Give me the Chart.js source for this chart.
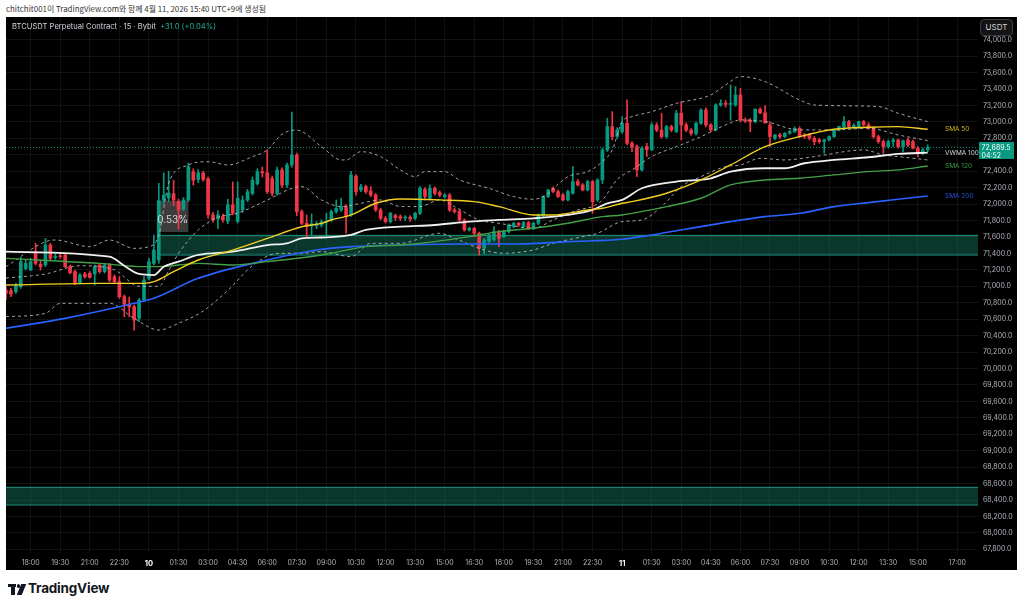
<!DOCTYPE html>
<html><head><meta charset="utf-8">
<script src="https://cdn.jsdelivr.net/npm/chart.js@4.4.1/dist/chart.umd.min.js"></script>
<style>
html,body{margin:0;padding:0;background:#fff;width:1024px;height:609px;overflow:hidden;font-family:Inter,"Liberation Sans",Arial,sans-serif;}
#hdr{position:absolute;left:6px;top:2px;font-size:7.9px;line-height:13px;color:#333;font-family:"Noto Sans CJK KR",Inter,sans-serif;white-space:nowrap;}
#panel{position:absolute;left:6px;top:17px;width:1011px;height:553px;background:#000;overflow:hidden;}
#c{position:absolute;left:0;top:0;}
#title{position:absolute;left:6px;top:4px;font-size:7.6px;line-height:12px;color:#d1d4dc;white-space:nowrap;}
#title span{color:#22ab94;margin-left:4px;}
#usdt{position:absolute;left:974px;top:2px;width:33px;height:17px;box-sizing:border-box;border:1px solid #3a3d45;border-radius:4px;background:#141414;color:#d1d4dc;font-size:8px;line-height:15px;text-align:center;}
#logo{position:absolute;left:8px;top:583px;height:14px;}
#logo .t1{position:absolute;left:0;top:1px;width:8px;height:3px;background:#131722;}
#logo .t2{position:absolute;left:3px;top:1px;width:3.5px;height:11px;background:#131722;}
#logo .dot{position:absolute;left:8.5px;top:1px;width:3.5px;height:3.5px;border-radius:50%;background:#131722;}
#logo .sl{position:absolute;left:11px;top:1px;width:5px;height:11px;background:#131722;transform:skewX(-22deg);}
#logo .txt{position:absolute;left:20px;top:-3px;font-size:13.5px;font-weight:700;color:#131722;white-space:nowrap;letter-spacing:-0.2px;}
</style></head>
<body>
<div id="hdr">chitchit001이 TradingView.com와 함께 4월 11, 2026 15:40 UTC+9에 생성됨</div>
<div id="panel">
<canvas id="c" width="1011" height="553"></canvas>
<div id="title">BTCUSDT Perpetual Contract · 15 · Bybit<span>+31.0 (+0.04%)</span></div>
<div id="usdt">USDT</div>
</div>
<div id="logo"><div class="t1"></div><div class="t2"></div><div class="dot"></div><div class="sl"></div><div class="txt">TradingView</div></div>
<script>
// bar index 0 = Apr 9 16:45, 15-minute bars
const ohlc = [
[70955,70995,70833,70914],[70947,70975,70874,70906],[70935,71036,70914,71016],[70995,71352,70975,71300],
[71218,71320,71198,71279],[71198,71340,71190,71300],[71421,71523,71259,71279],[71267,71320,71198,71239],
[71259,71583,71239,71502],[71502,71523,71320,71340],[71352,71393,71328,71368],[71368,71400,71340,71360],
[71381,71393,71231,71239],[71239,71259,71150,71166],[71178,71198,71016,71036],[71044,71158,71028,71137],
[71150,71170,71100,71117],[71158,71180,71100,71109],[71150,71259,71016,71239],[71259,71279,71160,71178],
[71178,71279,71160,71259],[71259,71279,71056,71077],[71117,71140,71040,71056],[71056,71117,70853,70874],
[70874,70894,70630,70780],[70780,70870,70630,70750],[70752,70772,70468,70590],[70610,70853,70570,70833],
[70833,71117,70813,71077],[71097,71340,71077,71300],[71279,71624,71259,71441],[71320,72252,71279,72042],
[72050,72380,72000,72110],[72075,72400,72030,72135],[72125,72290,71980,72050],[72030,72060,71700,71930],
[71940,72080,71920,72050],[72050,72500,72030,72455],[72395,72430,72230,72290],[72300,72420,72260,72380],
[72380,72400,72280,72300],[72310,72330,71830,71870],[71870,71900,71780,71810],[71820,71920,71700,71870],
[71850,71880,71780,71810],[71790,72060,71760,71990],[71990,72270,71870,71890],[71790,72270,71770,72070],
[71930,72100,71900,72050],[72050,72180,72030,72150],[72130,72330,72110,72290],[72250,72430,72230,72395],
[72395,72450,72330,72380],[72380,72660,72130,72150],[72310,72340,72100,72130],[72130,72450,72110,72415],
[72415,72440,72200,72232],[72232,72500,72200,72476],[72476,73120,72450,72597],[72597,72620,71860,71909],
[71909,71930,71750,71767],[71767,71868,71604,71726],[71735,71880,71620,71760],[71734,71790,71700,71759],
[71746,71810,71720,71787],[71780,71888,71604,71790],[71807,71930,71790,71909],[71909,72051,71890,71949],
[71929,72071,71910,71970],[71970,71990,71645,71848],[71868,72400,71850,72355],[72340,72360,72110,72150],
[72172,72240,72150,72213],[72213,72230,72130,72152],[72160,72213,72090,72111],[72111,72130,71910,71929],
[71929,71950,71810,71828],[71828,71850,71770,71787],[71787,71900,71770,71888],[71860,71880,71800,71835],
[71848,71870,71800,71828],[71830,71860,71800,71840],[71840,71860,71790,71820],[71828,71900,71810,71888],
[71888,72213,71870,72192],[72180,72200,72050,72090],[72071,72233,72050,72192],[72192,72210,72110,72132],
[72140,72160,72090,72111],[72091,72130,72070,72111],[72111,72130,71910,71929],[71929,71950,71890,71909],
[71909,71930,71790,71807],[71807,71820,71670,71686],[71686,71720,71670,71706],[71706,71720,71604,71645],
[71645,71660,71381,71463],[71463,71580,71390,71564],[71544,71640,71530,71625],[71564,71726,71550,71665],
[71665,71680,71483,71584],[71604,71680,71590,71665],[71665,71760,71650,71746],[71726,71780,71710,71767],
[71767,71780,71730,71746],[71726,71790,71710,71775],[71775,71790,71690,71706],[71706,71780,71690,71767],
[71767,71880,71750,71868],[71868,72100,71850,72091],[72091,72180,72080,72172],[72192,72210,72140,72152],
[72152,72170,72080,72091],[72111,72130,72040,72051],[72051,72170,72040,72152],[72132,72456,72120,72274],
[72274,72300,72220,72233],[72233,72250,72160,72172],[72172,72290,72160,72274],[72274,72290,71888,72030],
[72051,72310,72030,72294],[72294,72680,72250,72659],[72659,73044,72640,72943],[72943,73125,72780,72821],
[72821,72930,72800,72902],[72882,73064,72860,72983],[72983,73267,72720,72740],[72740,72760,72639,72699],
[72699,72720,72334,72416],[72416,72700,72400,72679],[72700,72740,72578,72660],[72660,72990,72650,72963],
[72960,72990,72880,72900],[72900,73105,72800,72821],[72821,72960,72800,72943],[72943,72960,72880,72902],
[72882,73140,72870,73105],[73105,73247,72780,72963],[72963,72990,72880,72900],[72900,72920,72840,72860],
[72860,73000,72840,72983],[72983,73160,72970,73145],[73145,73170,72940,72963],[72963,72980,72880,72902],
[72902,73220,72890,73206],[73206,73270,73190,73227],[73227,73260,73180,73214],[73214,73450,73020,73225],
[73206,73429,73190,73328],[73328,73409,73000,73024],[73024,73050,72990,73010],[73020,73040,72880,73000],
[73000,73160,72990,73154],[73154,73170,73100,73110],[73110,73200,72980,72990],[72963,73000,72699,72821],
[72801,72850,72780,72841],[72841,72860,72800,72821],[72821,72870,72810,72862],[72862,72900,72850,72882],
[72882,72940,72870,72922],[72922,72940,72810,72821],[72841,72860,72800,72821],[72841,72860,72780,72801],
[72801,72820,72720,72760],[72780,72800,72740,72760],[72760,72790,72618,72780],[72780,72830,72770,72821],
[72821,72910,72810,72902],[72902,72950,72890,72943],[72943,73064,72930,73003],[73003,73020,72930,72943],
[72943,72980,72920,72960],[72935,73010,72920,73003],[73003,73020,72950,72963],[72963,72990,72910,72922],
[72922,72940,72800,72821],[72821,72840,72740,72760],[72760,72780,72618,72699],[72699,72780,72680,72760],
[72760,72801,72700,72780],[72780,72790,72679,72699],[72699,72780,72639,72770],[72780,72800,72700,72720],
[72760,72780,72670,72679],[72679,72700,72578,72618],[72618,72680,72600,72659],[72659,72720,72640,72689.5]
];
const sma50 = [[0,71016],[19,71036],[28,71036],[30,71056],[34,71178],[39,71320],[46,71441],[53,71583],[60,71725],[64,71766],[66,71807],[70,71868],[75,72010],[80,72063],[88,72051],[95,72030],[100,71970],[107,71868],[111,71868],[118,71929],[121,71949],[125,72010],[127,72030],[134,72132],[141,72294],[147,72476],[154,72699],[161,72821],[168,72910],[175,72935],[181,72943],[187,72910]];
const vwma100 = [[0,71421],[21,71360],[24,71250],[27,71150],[30,71137],[32,71239],[35,71300],[39,71381],[46,71421],[53,71502],[57,71523],[60,71583],[64,71594],[70,71625],[73,71686],[80,71726],[87,71746],[94,71787],[100,71807],[107,71827],[114,71868],[119,71929],[122,72010],[125,72051],[129,72193],[136,72274],[143,72314],[147,72395],[154,72436],[158,72436],[162,72497],[168,72537],[175,72570],[181,72610],[187,72626]];
const sma120 = [[0,71340],[19,71279],[28,71239],[31,71239],[39,71279],[46,71259],[53,71300],[64,71381],[66,71402],[73,71483],[80,71503],[87,71544],[94,71604],[100,71665],[107,71706],[114,71767],[121,71848],[125,71868],[127,71888],[134,71969],[141,72071],[147,72233],[154,72294],[161,72314],[168,72355],[175,72395],[181,72416],[187,72464]];
const sma200 = [[0,70489],[12,70610],[26,70793],[30,70854],[39,71097],[53,71320],[63,71442],[70,71483],[80,71503],[94,71515],[104,71515],[114,71544],[125,71572],[131,71625],[141,71726],[147,71787],[154,71848],[161,71888],[168,71969],[175,72018],[181,72059],[187,72099]];
const bbUpper = [[0,71239],[8,71543],[10,71563],[17,71482],[21,71563],[26,71462],[29,71482],[31,71624],[33,72252],[37,72476],[41,72516],[45,72476],[50,72577],[53,72658],[56,72850],[59,72900],[64,72699],[68,72537],[69,72537],[72,72638],[76,72578],[80,72416],[83,72334],[85,72395],[89,72395],[92,72294],[98,72192],[103,72091],[107,72059],[109,72091],[114,72334],[118,72395],[121,72517],[123,72659],[125,73003],[127,73064],[131,73125],[136,73226],[143,73328],[146,73450],[149,73551],[154,73490],[161,73267],[164,73206],[177,73186],[181,73105],[187,73003]];
const bbBasis = [[0,71100],[8,71150],[15,71250],[22,71200],[27,71000],[31,71000],[33,71190],[35,71400],[39,71685],[43,71840],[47,71890],[53,72050],[58,72192],[60,72213],[64,72051],[68,71970],[72,72010],[76,72051],[80,71970],[84,71970],[88,72051],[91,71970],[96,71807],[100,71767],[107,71706],[111,71807],[116,71929],[119,71970],[121,72050],[124,72300],[127,72415],[131,72578],[136,72699],[141,72821],[146,72963],[149,73024],[154,73004],[161,72902],[168,72902],[175,72922],[181,72841],[187,72772]];
const bbLower = [[0,70631],[8,70671],[11,70793],[21,70793],[26,70610],[31,70468],[35,70550],[40,70700],[45,70950],[50,71250],[55,71400],[60,71402],[64,71422],[70,71361],[74,71523],[80,71523],[88,71645],[91,71584],[97,71442],[101,71402],[107,71442],[111,71523],[117,71604],[120,71645],[125,71787],[129,71807],[133,71969],[137,72213],[141,72334],[146,72456],[149,72476],[153,72557],[158,72537],[164,72578],[174,72659],[178,72598],[181,72578],[187,72537]];
const zoneUpper = {from:30.8, to:197.2, top:71620, bottom:71380};
const zoneLower = {from:0, to:197.2, top:68555, bottom:68340};
const lastPrice = 72689.5;
const xTickIdx = [5,11,17,23,29,35,41,47,53,59,65,71,77,83,89,95,101,107,113,119,125,131,137,143,149,155,161,167,173,179,185,193];
const xTickLabels = ["18:00","19:30","21:00","22:30","10","01:30","03:00","04:30","06:00","07:30","09:00","10:30","12:00","13:30","15:00","16:30","18:00","19:30","21:00","22:30","11","01:30","03:00","04:30","06:00","07:30","09:00","10:30","12:00","13:30","15:00","17:00"];
const yTickVals = [67800,68000,68200,68400,68600,68800,69000,69200,69400,69600,69800,70000,70200,70400,70600,70800,71000,71200,71400,71600,71800,72000,72200,72400,72600,72800,73000,73200,73400,73600,73800,74000];

const UP='#089981', DN='#f23645';
const colors = ohlc.map(r => r[3] >= r[0] ? UP : DN);
const pts = a => a.map(p => ({x:p[0], y:p[1]}));
const lineDs = (label, arr, color, w, order) => ({type:'line', label, data:pts(arr), borderColor:color, borderWidth:w, pointRadius:0, cubicInterpolationMode:'monotone', fill:false, order, maLabel:true});
const bbDs = arr => ({type:'line', data:pts(arr), borderColor:'rgba(200,200,200,0.8)', borderWidth:1, borderDash:[3,3], pointRadius:0, cubicInterpolationMode:'monotone', fill:false, order:6});
const zoneDs = (z, which) => ({type:'line', data:[{x:z.from,y:z[which]},{x:z.to,y:z[which]}], borderColor:'rgba(34,171,148,0.85)', borderWidth:1, pointRadius:0, fill: which==='top' ? '+1' : false, backgroundColor:'rgba(22,130,104,0.42)', order:20});

const overlay = {
  id:'overlay',
  beforeDatasetsDraw(chart){
    const {ctx, scales:{x,y}} = chart;
    ctx.save();
    const x0=x.getPixelForValue(30.6), x1=x.getPixelForValue(37.0);
    const y0=y.getPixelForValue(72042), y1=y.getPixelForValue(71660);
    ctx.fillStyle='rgba(110,110,110,0.55)';
    ctx.fillRect(x0,y0,x1-x0,y1-y0);
    ctx.restore();
  },
  afterDatasetsDraw(chart){
    const {ctx, scales:{x,y}} = chart;
    ctx.save();
    ctx.font='10px Inter, sans-serif';
    ctx.fillStyle='#d8d8d8';
    ctx.textAlign='center'; ctx.textBaseline='middle';
    ctx.fillText('0.53%', x.getPixelForValue(33.8), y.getPixelForValue(71807));
    ctx.font='6.5px Inter, sans-serif';
    ctx.textAlign='left';
    chart.data.datasets.forEach(ds => {
      if (!ds.maLabel) return;
      const last = ds.data[ds.data.length-1];
      ctx.fillStyle = ds.labelColor || ds.borderColor;
      ctx.fillText(ds.label, 939, y.getPixelForValue(last.y));
    });
    ctx.restore();
  },
  afterDraw(chart){
    const {ctx, scales:{y}} = chart;
    const py = y.getPixelForValue(lastPrice);
    ctx.save();
    ctx.fillStyle=UP;
    ctx.fillRect(973, py-5.5, 35, 17);
    ctx.fillStyle='#ffffff';
    ctx.font='7px Inter, sans-serif';
    ctx.textAlign='left'; ctx.textBaseline='middle';
    ctx.fillText('72,689.5', 975.5, py);
    ctx.fillText('04:52', 975.5, py+8);
    ctx.restore();
  }
};

const datasets = [
  zoneDs(zoneUpper,'top'), zoneDs(zoneUpper,'bottom'),
  zoneDs(zoneLower,'top'), zoneDs(zoneLower,'bottom'),
  {type:'line', data:[{x:0,y:lastPrice},{x:197.2,y:lastPrice}], borderColor:UP, borderWidth:1, borderDash:[1,2], pointRadius:0, fill:false, order:15},
  {type:'bar', data:ohlc.map((r,i)=>({x:i,y:[r[2],r[1]]})), backgroundColor:colors, barThickness:1, grouped:false, order:12},
  {type:'bar', data:ohlc.map((r,i)=>({x:i,y:[r[0],r[3]]})), backgroundColor:colors, barThickness:3, minBarLength:1, grouped:false, order:11},
  bbDs(bbUpper), bbDs(bbBasis), bbDs(bbLower),
  Object.assign(lineDs('SMA 200', sma200, '#2962ff', 1.6, 4), {labelColor:'#2a53e0'}),
  Object.assign(lineDs('SMA 120', sma120, '#43a047', 1.4, 3), {labelColor:'#3f9a43'}),
  Object.assign(lineDs('VWMA 100', vwma100, '#f0f0f0', 1.8, 2), {labelColor:'#d1d4dc'}),
  Object.assign(lineDs('SMA 50', sma50, '#f2d024', 1.4, 1), {labelColor:'#d7b820'})
];

const gridColor='rgba(255,255,255,0.065)';
const zeroPad = s => { s.paddingTop=0; s.paddingBottom=0; s.paddingLeft=0; s.paddingRight=0; };
new Chart(document.getElementById('c'), {
  type:'bar',
  data:{datasets},
  options:{
    responsive:false, animation:false, devicePixelRatio:1,
    layout:{padding:0},
    plugins:{legend:{display:false}, tooltip:{enabled:false}},
    scales:{
      x:{type:'linear', min:0, max:197.2, offset:false,
         grid:{color:gridColor, drawTicks:false, offset:false}, border:{display:false},
         afterBuildTicks:s=>{ s.ticks = xTickIdx.map(v=>({value:v})); },
         afterFit:s=>{ s.height=17; zeroPad(s); },
         ticks:{autoSkip:false, maxRotation:0, padding:6,
           callback:v=>xTickLabels[xTickIdx.indexOf(v)],
           color:c=> (c.tick && (c.tick.value===29||c.tick.value===125)) ? '#ffffff' : '#b2b5be',
           font:c=> (c.tick && (c.tick.value===29||c.tick.value===125)) ? {family:'Inter', size:7.5, weight:'bold'} : {family:'Inter', size:7}}
      },
      y:{type:'linear', position:'right', min:67756, max:74276,
         grid:{color:gridColor, drawTicks:false}, border:{display:false},
         afterBuildTicks:s=>{ s.ticks = yTickVals.map(v=>({value:v})); },
         afterFit:s=>{ s.width=39; zeroPad(s); },
         ticks:{padding:5, color:'#b2b5be', font:{family:'Inter', size:7},
           callback:v=>v.toLocaleString('en-US',{minimumFractionDigits:1, maximumFractionDigits:1})}
      }
    }
  },
  plugins:[overlay]
});
</script>
</body></html>
